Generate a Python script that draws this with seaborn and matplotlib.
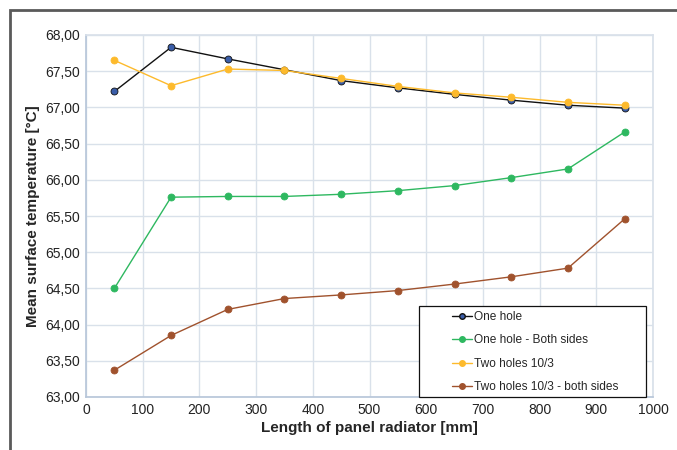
import matplotlib
matplotlib.use("Agg")
import matplotlib.pyplot as plt
import seaborn as sns
import pandas as pd
from matplotlib.patches import Rectangle
from matplotlib.ticker import FuncFormatter
from matplotlib.lines import Line2D

length = [50, 150, 250, 350, 450, 550, 650, 750, 850, 950]
one_hole = [67.22, 67.83, 67.67, 67.52, 67.37, 67.27, 67.18, 67.10, 67.03, 66.99]
one_hole_both = [64.50, 65.76, 65.77, 65.77, 65.80, 65.85, 65.92, 66.03, 66.15, 66.66]
two_holes = [67.65, 67.30, 67.53, 67.51, 67.40, 67.29, 67.20, 67.14, 67.07, 67.03]
two_holes_both = [63.37, 63.85, 64.21, 64.36, 64.41, 64.47, 64.56, 64.66, 64.78, 65.46]

names = ["One hole", "One hole - Both sides", "Two holes 10/3", "Two holes 10/3 - both sides"]
series = [one_hole, one_hole_both, two_holes, two_holes_both]
line_colors = ["#111111", "#2EB860", "#FDBA2C", "#A0522D"]
face_colors = ["#3A5DA8", "#2EB860", "#FDBA2C", "#A0522D"]

rows = []
for n, s in zip(names, series):
    for x, y in zip(length, s):
        rows.append({"Length": x, "Temp": y, "Series": n})
df = pd.DataFrame(rows)

sns.set_theme(style="white")
plt.rcParams['font.family'] = ['Liberation Sans', 'DejaVu Sans']

fig = plt.figure(figsize=(6.77, 4.5), dpi=100)
ax = fig.add_axes([86/677, 1-397/450, (653-86)/677, (397-35)/450])

sns.lineplot(data=df, x="Length", y="Temp", hue="Series", hue_order=names,
             palette=dict(zip(names, line_colors)), marker="o", markersize=5,
             linewidth=1.0, ax=ax, legend=False)
for line, fc, lc in zip(ax.get_lines(), face_colors, line_colors):
    line.set_markerfacecolor(fc)
    line.set_markeredgecolor(lc)
    line.set_markeredgewidth(0.6)

ax.set_xlim(0, 1000)
ax.set_ylim(63, 68)
ax.set_xticks(range(0, 1001, 100))
ax.set_yticks([63 + 0.5 * i for i in range(11)])
ax.yaxis.set_major_formatter(FuncFormatter(lambda v, p: f"{v:.2f}".replace(".", ",")))
ax.grid(True, color="#D9E1EA", linewidth=1.0)
for sp in ax.spines.values():
    sp.set_color("#D9E1EA")
ax.spines['left'].set_color("#B8C7DA")
ax.spines['bottom'].set_color("#B8C7DA")
ax.tick_params(axis='both', labelsize=10, length=0, pad=4, colors="#222222")
ax.set_xlabel("Length of panel radiator [mm]", fontsize=11, fontweight="bold", labelpad=3)
ax.set_ylabel("Mean surface temperature [°C]", fontsize=11, fontweight="bold", labelpad=4)

# legend frame
x0 = (419 - 86) / 567
x1 = (646 - 86) / 567
y1 = (397 - 306) / 362
frame = Rectangle((x0, 0), x1 - x0, y1, transform=ax.transAxes, facecolor="white",
                  edgecolor="#111111", linewidth=0.9, zorder=5, clip_on=False)
ax.add_patch(frame)

handles = [Line2D([0], [0], color=lc, marker="o", markersize=4, markerfacecolor=fc,
                  markeredgecolor=lc, linewidth=1.0) for lc, fc in zip(line_colors, face_colors)]
leg = ax.legend(handles, names, loc="upper left",
                bbox_to_anchor=((452 - 86) / 567, (397 - 311) / 362),
                frameon=False, fontsize=8.6, handlelength=1.7,
                handletextpad=0.15, borderpad=0.0, labelspacing=0.95,
                borderaxespad=0.0)
leg.set_zorder(6)

fig.patches.append(Rectangle((10/677, -0.05), 1.1, 1 - 10/450 + 0.05, transform=fig.transFigure,
                             fill=False, edgecolor="#5A5A5A", linewidth=2.0))

fig.savefig("out.png", dpi=100)
